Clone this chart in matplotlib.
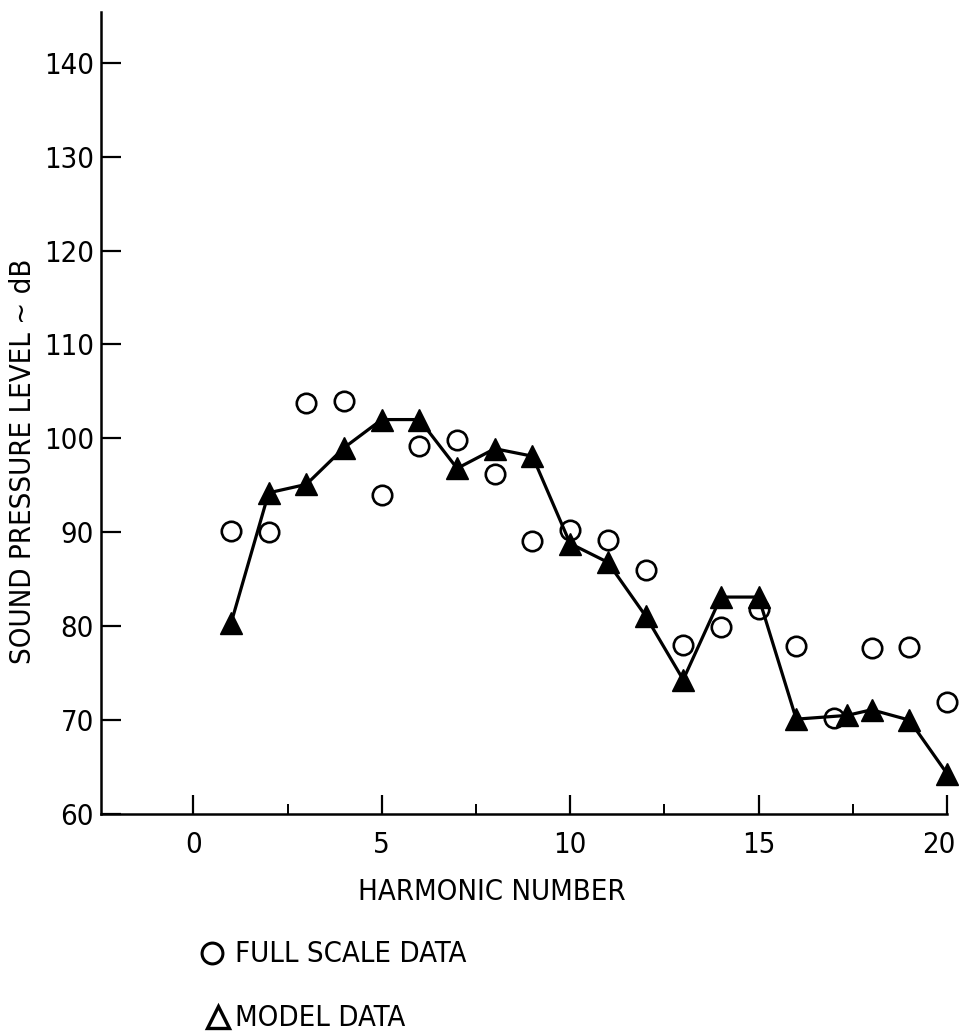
import matplotlib
matplotlib.use('Agg')
import matplotlib.pyplot as plt
from matplotlib.lines import Line2D
from matplotlib.ticker import MultipleLocator
from matplotlib.transforms import ScaledTranslation

plt.rcParams['font.family'] = ['Liberation Sans Narrow', 'DejaVu Sans']
plt.rcParams['font.stretch'] = 'condensed'

# full scale data (circles)
full_h = [1, 2, 3, 4, 5, 6, 7, 8, 9, 10, 11, 12, 13, 14, 15, 16, 17, 18, 19, 20]
full_db = [90.1, 90.0, 103.8, 104.0, 94.0, 99.2, 99.8, 96.2, 89.1, 90.2,
           89.2, 86.0, 78.0, 79.9, 81.8, 77.9, 70.2, 77.7, 77.8, 71.9]

# model data (triangles, joined)
model_h = [1, 2, 3, 4, 5, 6, 7, 8, 9, 10, 11, 12, 13, 14, 15, 16, 17.35, 18, 19, 20]
model_db = [80.3, 94.2, 95.1, 99.0, 102.0, 102.0, 96.8, 98.9, 98.1, 88.8,
            86.8, 81.1, 74.3, 83.1, 83.1, 70.1, 70.5, 71.1, 70.0, 64.3]

yticks = [60, 70, 80, 90, 100, 110, 120, 130, 140]
xticks = [0, 5, 10, 15, 20]

W, H = 959, 1033
fig = plt.figure(figsize=(W / 100, H / 100), dpi=100)
ax = fig.add_axes([101 / W, (H - 814) / H, 846 / W, 802 / H])

ax.plot(model_h, model_db, color='black', lw=2.3, marker='^', ms=15.5,
        mfc='black', mec='black', clip_on=False, zorder=3)
ax.plot(full_h, full_db, ls='none', marker='o', ms=14, mfc='none',
        mec='black', mew=1.9, clip_on=False, zorder=4)

ax.set_xlim(-2.45, 20.0)
ax.set_ylim(60, 145.4)
ax.set_yticks(yticks)
ax.set_xticks(xticks)
ax.xaxis.set_minor_locator(MultipleLocator(2.5))

for s in ['top', 'right']:
    ax.spines[s].set_visible(False)
for s in ['left', 'bottom']:
    ax.spines[s].set_linewidth(1.8)

ax.tick_params(axis='y', direction='in', length=14.4, width=1.6, pad=5,
               labelsize=21)
ax.tick_params(axis='x', which='major', direction='in', length=13.7,
               width=1.6, pad=12, labelsize=21)
ax.tick_params(axis='x', which='minor', direction='in', length=7.2, width=1.4)

# the "20" sits a little left of its tick, as in the original
last = ax.get_xticklabels()[-1]
last.set_transform(last.get_transform() + ScaledTranslation(-0.08, 0, fig.dpi_scale_trans))

fig.text(492 / W, 1 - 892 / H, 'HARMONIC NUMBER', fontsize=21,
         ha='center', va='center')
fig.text(23 / W, 1 - 461.5 / H, 'SOUND PRESSURE LEVEL ~ dB', fontsize=21,
         rotation=90, ha='center', va='center')

# legend drawn by hand below the axis label
fig.add_artist(Line2D([212 / W], [1 - 953 / H], marker='o', ms=15, mfc='none',
                      mec='black', mew=2.2, transform=fig.transFigure))
fig.add_artist(Line2D([218 / W], [1 - 1017 / H], marker='^', ms=16, mfc='none',
                      mec='black', mew=2.4, transform=fig.transFigure))
fig.text(235 / W, 1 - 954 / H, 'FULL SCALE DATA', fontsize=21, va='center')
fig.text(235 / W, 1 - 1018 / H, 'MODEL DATA', fontsize=21, va='center')

fig.savefig('out.png', dpi=100)
